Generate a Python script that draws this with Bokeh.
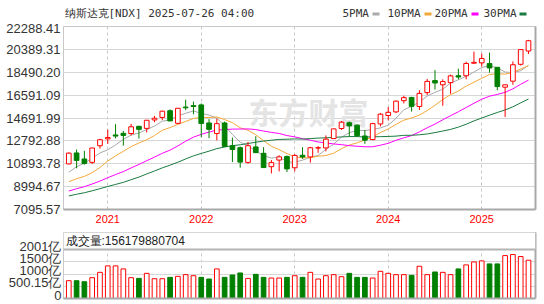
import pandas as pd
from bokeh.plotting import figure
from bokeh.layouts import column
from bokeh.core.properties import value
from bokeh.models import (ColumnDataSource, FixedTicker, CustomJSTickFormatter,
                          Label, BoxAnnotation, Span, LinearAxis, Range1d)
from bokeh.embed import file_html
from bokeh.resources import INLINE

# ---------------- data ----------------
months = ["2020-08", "2020-09", "2020-10", "2020-11", "2020-12",
          "2021-01", "2021-02", "2021-03", "2021-04", "2021-05", "2021-06",
          "2021-07", "2021-08", "2021-09", "2021-10", "2021-11", "2021-12",
          "2022-01", "2022-02", "2022-03", "2022-04", "2022-05", "2022-06",
          "2022-07", "2022-08", "2022-09", "2022-10", "2022-11", "2022-12",
          "2023-01", "2023-02", "2023-03", "2023-04", "2023-05", "2023-06",
          "2023-07", "2023-08", "2023-09", "2023-10", "2023-11", "2023-12",
          "2024-01", "2024-02", "2024-03", "2024-04", "2024-05", "2024-06",
          "2024-07", "2024-08", "2024-09", "2024-10", "2024-11", "2024-12",
          "2025-01", "2025-02", "2025-03", "2025-04", "2025-05", "2025-06", "2025-07"]

opens = [10880, 11790, 11290, 11010, 12390,
         12960, 13285, 13420, 13400, 14000, 13830, 14530, 14740, 15300, 14250, 15600, 15720,
         15780, 14280, 13400, 14280, 12390, 12230, 11005, 12290, 11760, 10650, 11200, 11500,
         10560, 11600, 11460, 12200, 12210, 12980, 13820, 14300, 14100, 13200, 12900, 14200,
         14900, 15200, 16130, 16400, 15650, 16800, 17800, 17450, 17630, 18200, 18200, 19240,
         19270, 19215, 18900, 17250, 17750, 19150, 20250]
highs = [11830, 12074, 11965, 12229, 12973,
         13728, 14175, 13620, 14211, 14043, 14536, 14864, 15288, 15403, 15504, 16212, 16057,
         15901, 14600, 14646, 14400, 13060, 12320, 12705, 13181, 12271, 11200, 11600, 11571,
         11691, 12270, 12300, 12352, 13250, 13800, 14446, 14400, 14150, 13700, 14300, 15111,
         15600, 16134, 16538, 16450, 17000, 17936, 18671, 17900, 18300, 18785, 19366, 20204,
         20053, 20118, 18900, 17480, 19390, 20420, 21178]
lows = [10850, 10520, 10822, 10875, 12150,
        12543, 13003, 12397, 13250, 12986, 13486, 14347, 14520, 14435, 14183, 15340, 15000,
        13094, 13017, 12834, 12301, 11036, 10565, 10900, 11800, 10570, 10089, 10262, 10207,
        10266, 11300, 10982, 11800, 11925, 12960, 13700, 13161, 13150, 12544, 12850, 14000,
        14477, 15100, 15900, 15223, 15360, 16600, 17050, 15708, 16700, 17900, 17900, 19200,
        18960, 18460, 17000, 14784, 17450, 19050, 20000]
closes = [11775, 11168, 10912, 12199, 12888,
          13071, 13192, 13247, 13962, 13749, 14504, 14673, 15259, 14449, 15498, 15538, 15645,
          14240, 13751, 14221, 12335, 12081, 11029, 12391, 11816, 10576, 10988, 11468, 10466,
          11585, 11456, 12222, 12227, 12935, 13788, 14346, 14035, 13219, 12851, 14226, 15011,
          15164, 16092, 16380, 15658, 16735, 17733, 17599, 17714, 18189, 18095, 19218, 19311,
          19627, 18847, 17299, 17446, 19114, 20370, 21108]
# monthly volume, in 亿
volumes = [727, 727, 686, 850, 1068,
           1331, 1331, 1207, 850, 822, 1027, 808, 808, 863, 904, 973, 931,
           863, 795, 1207, 863, 960, 1042, 822, 987, 863, 836, 836, 863,
           931, 863, 1068, 795, 931, 973, 890, 1027, 863, 863, 836, 1110,
           1027, 973, 973, 945, 1315, 973, 1083, 1068, 973, 1207, 1372, 1494,
           1535, 1413, 1413, 1752, 1794, 1713, 1562]
# closes of the 29 months before the first bar (2018-03 .. 2020-07), needed by the moving averages
history_closes = [7063, 7066, 7442, 7510, 7672, 8110, 8046, 7306, 7331, 6635,
                  7282, 7533, 7729, 8095, 7453, 8006, 8175, 7963, 7999, 8292, 8665, 8973,
                  9151, 8567, 7700, 8890, 9490, 10059, 10745]

ma_periods = [5, 10, 20, 30]
ma_names = ["5PMA", "10PMA", "20PMA", "30PMA"]
ma_colors = ["#a9a9a9", "#f4a83a", "#ff00ff", "#1a7a40"]

price_ticks = [7095.57, 8994.67, 10893.78, 12792.88, 14691.99, 16591.09, 18490.20, 20389.31, 22288.41]
vol_ticks = [0, 500.15, 1000.30, 1500.45, 2000.60]
vol_tick_labels = ["0", "500.15亿", "1000亿", "1500亿", "2001亿"]
title_text = "纳斯达克[NDX] 2025-07-26 04:00"
vol_header = "成交量:156179880704"
watermark = "东方财富"

UP = "#ff0000"
DOWN = "#008000"

# ---------------- derived tables ----------------
n = len(months)
xs = list(range(n))
all_close = pd.Series(history_closes + closes, dtype=float)
h = len(history_closes)
ma_values = [all_close.rolling(p).mean().iloc[h:].tolist() for p in ma_periods]

up = [c >= o for o, c in zip(opens, closes)]
prev_close = [history_closes[-1]] + closes[:-1]
vol_up = [c >= pc for c, pc in zip(closes, prev_close)]

candles = ColumnDataSource(dict(
    x=xs, high=highs, low=lows,
    top=[max(o, c) for o, c in zip(opens, closes)],
    bottom=[min(o, c) for o, c in zip(opens, closes)],
    line=[UP if u else DOWN for u in up],
    fill=["#ffffff" if u else DOWN for u in up],
))
vols = ColumnDataSource(dict(
    x=xs, v=volumes,
    line=[UP if u else DOWN for u in vol_up],
    fill=["#ffffff" if u else DOWN for u in vol_up],
))

year_ticks = [i for i, m in enumerate(months) if m.endswith("-01")]
year_labels = {i: months[i][:4] for i in year_ticks}
price_tick_labels = ["%.2f" % t for t in price_ticks]

NEAREST_LABEL = """
let best = 0;
for (let i = 0; i < vals.length; i++) {
  if (Math.abs(vals[i] - tick) < Math.abs(vals[best] - tick)) best = i;
}
return labels[best];
"""

W = 544
LEFT, RIGHT = 63, 9
x_range = Range1d(-0.68, n - 1 + 0.9)

# ---------------- header strip (title + MA legend) ----------------
HEAD_H = 20
p0 = figure(width=W, height=HEAD_H, output_backend="svg", toolbar_location=None,
            x_range=Range1d(LEFT, W - RIGHT), y_range=Range1d(HEAD_H, 0),
            min_border_left=LEFT, min_border_right=RIGHT, min_border_top=0, min_border_bottom=0)
p0.axis.visible = False
p0.grid.visible = False
p0.outline_line_color = None
p0.background_fill_color = "#ffffff"
p0.border_fill_color = "#ffffff"

p0.text(x=[64], y=[12.5], text=[title_text], text_font=value("DejaVu Sans Mono"),
        text_font_size="11px", text_color="#333333", text_baseline="middle", text_align="left")

legend_text_x = [342, 387, 434, 483]
legend_dash_x = [372, 424, 471, 519]
p0.text(x=legend_text_x, y=[13] * 4, text=ma_names, text_font=value("DejaVu Sans Mono"),
        text_font_size="11px", text_color="#333333", text_baseline="middle", text_align="left")
p0.segment(x0=legend_dash_x, y0=[13.5] * 4, x1=[d + 7 for d in legend_dash_x], y1=[13.5] * 4,
           line_color=ma_colors, line_width=3)

# ---------------- price panel ----------------
P1_FRAME_H = 183
top_drop = 1.5 * (price_ticks[-1] - price_ticks[0]) / P1_FRAME_H  # top label 1.5px lower
price_label_pos = price_ticks[:-1] + [price_ticks[-1] - top_drop]
p1 = figure(width=W, height=228 - HEAD_H, output_backend="svg", toolbar_location=None,
            x_range=x_range, y_range=Range1d(price_ticks[0], price_ticks[-1]),
            min_border_left=LEFT, min_border_right=RIGHT, min_border_top=26 - HEAD_H,
            min_border_bottom=19)
p1.background_fill_color = "#ffffff"
p1.border_fill_color = "#ffffff"
p1.outline_line_color = "#c8c8c8"

p1.yaxis.ticker = FixedTicker(ticks=price_label_pos)
p1.yaxis.formatter = CustomJSTickFormatter(args=dict(labels=price_tick_labels, vals=price_label_pos),
                                           code=NEAREST_LABEL)
p1.yaxis.axis_line_color = None
p1.yaxis.major_tick_line_color = None
p1.yaxis.minor_tick_line_color = None
p1.yaxis.major_tick_out = 0
p1.yaxis.major_label_standoff = 3
p1.yaxis.major_label_text_font = "Liberation Sans"
p1.yaxis.major_label_text_font_size = "13px"
p1.yaxis.major_label_text_color = "#333333"

p1.xaxis.ticker = FixedTicker(ticks=year_ticks)
p1.xaxis.major_label_overrides = year_labels
p1.xaxis.axis_line_color = "#a8a8a8"
p1.xaxis.axis_line_width = 2
p1.xaxis.major_tick_line_color = None
p1.xaxis.minor_tick_line_color = None
p1.xaxis.major_tick_out = 0
p1.xaxis.major_label_standoff = 5
p1.xaxis.major_label_text_font = "Liberation Sans"
p1.xaxis.major_label_text_font_size = "11px"
p1.xaxis.major_label_text_color = "#ff0000"

rax = LinearAxis(ticker=FixedTicker(ticks=[]), axis_line_color="#a8a8a8", axis_line_width=2,
                 major_tick_line_color=None, minor_tick_line_color=None, major_tick_out=0,
                 major_label_standoff=0, major_label_text_font_size="0px")
p1.add_layout(rax, "right")

p1.ygrid.ticker = FixedTicker(ticks=price_ticks)
p1.ygrid.grid_line_color = "#d6d6d6"
p1.xgrid.grid_line_color = "#c8c8c8"
p1.xgrid.grid_line_dash = "3 3"

p1.add_layout(Label(x=185, y=99, x_units="screen", y_units="screen", text=watermark,
                    text_font="Noto Sans CJK SC", text_font_size="30px", text_font_style="bold",
                    text_color="#e4e4e4", text_baseline="middle", level="underlay"))

for vals, col in zip(ma_values, ma_colors):
    p1.line(xs, vals, line_color=col, line_width=1)

p1.segment(x0="x", y0="low", x1="x", y1="high", line_color="line", line_width=1, source=candles)
p1.vbar(x="x", width=0.6, top="top", bottom="bottom", fill_color="fill", line_color="line",
        line_width=1, source=candles)

# ---------------- volume panel ----------------
VOL_FRAME_H = 66
vol_top = vol_ticks[-1] * VOL_FRAME_H / 49.0
label_lift = 3.5 * vol_top / VOL_FRAME_H   # labels sit a little above their grid lines
vol_label_pos = [t + label_lift for t in vol_ticks]
p2 = figure(width=W, height=76, output_backend="svg", toolbar_location=None,
            x_range=x_range, y_range=Range1d(0, vol_top),
            min_border_left=LEFT, min_border_right=RIGHT, min_border_top=4, min_border_bottom=6)
p2.background_fill_color = "#ffffff"
p2.border_fill_color = "#ffffff"
p2.outline_line_color = "#c8c8c8"

p2.yaxis.ticker = FixedTicker(ticks=vol_label_pos)
p2.yaxis.formatter = CustomJSTickFormatter(args=dict(labels=vol_tick_labels, vals=vol_label_pos),
                                           code=NEAREST_LABEL)
p2.yaxis.axis_line_color = None
p2.yaxis.major_tick_line_color = None
p2.yaxis.minor_tick_line_color = None
p2.yaxis.major_tick_out = 0
p2.yaxis.major_label_standoff = 2
p2.yaxis.major_label_text_font = "Liberation Sans"
p2.yaxis.major_label_text_font_size = "13px"
p2.yaxis.major_label_text_color = "#333333"

p2.xaxis.ticker = FixedTicker(ticks=[])
p2.xaxis.axis_line_color = "#a8a8a8"
p2.xaxis.axis_line_width = 2
p2.xaxis.major_tick_line_color = None
p2.xaxis.minor_tick_line_color = None
p2.xaxis.major_tick_out = 0
p2.xaxis.major_label_standoff = 0
p2.xaxis.major_label_text_font_size = "0px"

rax2 = LinearAxis(ticker=FixedTicker(ticks=[]), axis_line_color="#a8a8a8", axis_line_width=2,
                  major_tick_line_color=None, minor_tick_line_color=None, major_tick_out=0,
                  major_label_standoff=0, major_label_text_font_size="0px")
p2.add_layout(rax2, "right")

p2.ygrid.ticker = FixedTicker(ticks=vol_ticks[1:-1])
p2.ygrid.grid_line_color = "#d6d6d6"
p2.xgrid.ticker = FixedTicker(ticks=year_ticks)
p2.xgrid.grid_line_color = "#c8c8c8"
p2.xgrid.grid_line_dash = "3 3"

p2.vbar(x="x", width=0.6, top="v", bottom=0, fill_color="fill", line_color="line",
        line_width=1, source=vols)

p2.add_layout(BoxAnnotation(bottom=vol_ticks[-1], fill_color="#ffffff", fill_alpha=1.0,
                            line_alpha=0))
p2.add_layout(Span(location=vol_ticks[-1], dimension="width", line_color="#b4b4b4", line_width=2))
p2.add_layout(Label(x=2, y=58, x_units="screen", y_units="screen", text=vol_header,
                    text_font="Liberation Sans", text_font_size="12px", text_color="#222222",
                    text_baseline="middle", text_align="left"))

layout = column(p0, p1, p2, spacing=0)
open("out.html", "w").write(file_html(layout, INLINE))
